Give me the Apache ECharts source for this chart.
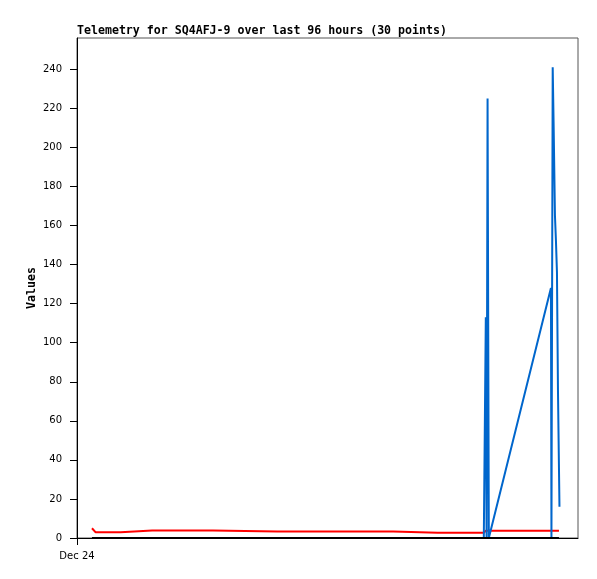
<!DOCTYPE html>
<html>
<head>
<meta charset="utf-8">
<script src="https://cdn.jsdelivr.net/npm/echarts@6/dist/echarts.min.js"></script>
<style>
  html, body { margin: 0; padding: 0; background: #fff; }
  #chart { width: 597px; height: 579px; }
</style>
</head>
<body>
<div id="chart"></div>
<script>
// hours since Dec 24 00:00
var hours = [2.99, 3.73, 8.72, 8.98, 15, 20, 27.1, 27.3, 40, 50, 55, 63.1, 63.3, 72, 81.2, 81.4,
  81.6, 81.75, 81.95, 82.2, 94.6, 94.7, 94.95, 95.15, 95.4, 95.6, 95.8, 96.0, 96.2, 96.3];
var redValues = [5.0, 2.9, 2.9, 3.9, 3.9, 3.9, 3.9, 3.3, 3.3, 3.3, 3.3, 3.3, 2.7, 2.7, 2.7, 3.7,
  3.7, 3.7, 3.7, 3.7, 3.7, 3.7, 3.7, 3.7, 3.7, 3.7, 3.7, 3.7, 3.7, 3.7];
var blueValues = [0, 0, 0, 0, 0, 0, 0, 0, 0, 0, 0, 0, 0, 0, 0, 0,
  113, 0, 225, 0, 128, 0, 241, 209, 165, 152, 136, 76, 36, 16];
var blackValues = [0, 0, 0, 0, 0, 0, 0, 0, 0, 0, 0, 0, 0, 0, 0, 0,
  0, 0, 0, 0, 0, 0, 0, 0, 0, 0, 0, 0, 0, 0];
var yTicks = [0, 20, 40, 60, 80, 100, 120, 140, 160, 180, 200, 220, 240];
var xTicks = [0];
var xTickLabels = ["Dec 24"];

function pairs(vals) {
  return hours.map(function (h, i) { return [h, vals[i]]; });
}

var chart = echarts.init(document.getElementById("chart"));
var option = {
  animation: false,
  title: {
    text: "Telemetry for SQ4AFJ-9 over last 96 hours (30 points)",
    left: 77,
    top: 25,
    padding: 0,
    textStyle: {
      fontFamily: "DejaVu Sans Mono",
      fontWeight: "bold",
      fontSize: 11.6,
      color: "#000"
    }
  },
  grid: {
    left: 77,
    top: 38,
    right: 19,
    bottom: 41,
    show: true,
    borderColor: "#555",
    borderWidth: 1
  },
  xAxis: {
    type: "value",
    min: 0,
    max: 100,
    axisLine: { show: true, lineStyle: { color: "#000", width: 1 } },
    axisTick: { show: true, customValues: xTicks, length: 7, lineStyle: { color: "#000" } },
    axisLabel: {
      customValues: xTicks,
      formatter: function (v) { return xTickLabels[xTicks.indexOf(v)] || ""; },
      margin: 13,
      fontFamily: "DejaVu Sans",
      fontSize: 10,
      color: "#000"
    },
    splitLine: { show: false }
  },
  yAxis: {
    type: "value",
    min: 0,
    max: 256,
    name: "Values",
    nameLocation: "middle",
    nameGap: 39,
    nameMoveOverlap: false,
    nameTextStyle: {
      fontFamily: "DejaVu Sans Mono",
      fontWeight: "bold",
      fontSize: 11.6,
      color: "#000"
    },
    axisLine: { show: true, lineStyle: { color: "#000", width: 1 } },
    axisTick: { show: true, customValues: yTicks, length: 7, lineStyle: { color: "#000" } },
    axisLabel: {
      customValues: yTicks,
      margin: 15,
      fontFamily: "DejaVu Sans",
      fontSize: 10,
      color: "#000"
    },
    splitLine: { show: false }
  },
  series: [
    {
      name: "red",
      type: "line",
      data: pairs(redValues),
      showSymbol: false,
      lineStyle: { color: "#ff0000", width: 2 },
      itemStyle: { color: "#ff0000" }
    },
    {
      name: "blue",
      type: "line",
      data: pairs(blueValues),
      showSymbol: false,
      lineStyle: { color: "#0066cc", width: 2 },
      itemStyle: { color: "#0066cc" }
    },
    {
      name: "black",
      type: "line",
      data: pairs(blackValues),
      showSymbol: false,
      lineStyle: { color: "#000", width: 2 },
      itemStyle: { color: "#000" }
    }
  ]
};
chart.setOption(option);
</script>
</body>
</html>
